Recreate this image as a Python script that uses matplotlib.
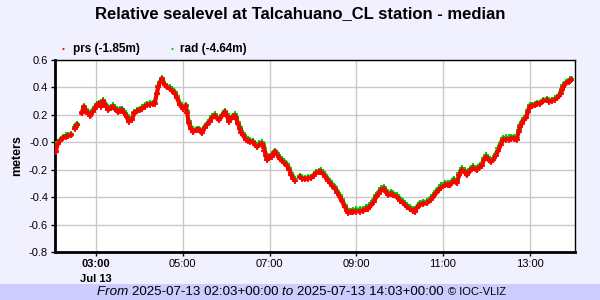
import numpy as np
import matplotlib
matplotlib.use("Agg")
import matplotlib.pyplot as plt
import matplotlib.dates as mdates
from matplotlib.patches import Rectangle
from datetime import datetime

plt.rcParams['font.family'] = ['Liberation Sans', 'DejaVu Sans']

title = "Relative sealevel at Talcahuano_CL station - median"
labels = ["prs (-1.85m)", "rad (-4.64m)"]
day = "2025-07-13"

times = ["02:04","02:07","02:10","02:14","02:18","02:21","02:25","02:27",
         "02:30","02:32","02:34","02:37",
         "02:40","02:43","02:46","02:49","02:52","02:55","02:58","03:01","03:04","03:07",
         "03:10","03:14","03:17","03:20","03:23","03:26","03:30","03:33","03:36","03:39",
         "03:42","03:45","03:49","03:53","03:57","04:00","04:04","04:07","04:11","04:14",
         "04:18","04:21","04:24","04:26","04:28","04:31","04:35","04:38","04:42","04:45",
         "04:49","04:52","04:56","05:00","05:04","05:06","05:08","05:11","05:14","05:19",
         "05:23","05:26","05:30","05:33","05:37","05:41","05:44","05:47","05:50","05:54",
         "05:58","06:01","06:04","06:09","06:12","06:14","06:16","06:19","06:21","06:23",
         "06:27","06:30","06:33","06:37","06:40","06:43","06:46","06:49","06:51","06:53",
         "06:55","06:57","07:00","07:03","07:06","07:08","07:11","07:14","07:17","07:20",
         "07:24","07:27","07:30","07:33","07:35","07:38",
         "07:42","07:45","07:49","07:53","07:58","08:01","08:05","08:08","08:11","08:14",
         "08:17","08:21","08:24","08:27","08:31","08:34","08:37","08:40","08:44","08:47",
         "08:49","08:53","08:56","09:00","09:05","09:10","09:14","09:17","09:21","09:24",
         "09:28","09:31","09:35","09:38","09:41","09:44","09:48","09:51","09:56","10:01",
         "10:05","10:10","10:15","10:18","10:21","10:24","10:28","10:33","10:38","10:43",
         "10:47","10:51","10:54","10:58","11:03","11:07","11:10","11:15","11:19","11:23",
         "11:26","11:30","11:33","11:38","11:42","11:47","11:51","11:54","11:57","12:00",
         "12:03","12:06","12:10","12:13","12:17","12:20","12:23","12:27","12:31","12:35",
         "12:38","12:42","12:45","12:47","12:49","12:52","12:55","12:58","13:00","13:04",
         "13:08","13:11","13:15","13:19","13:24","13:27","13:31","13:35","13:38","13:41",
         "13:43","13:45","13:47","13:51","13:54","13:56","13:58"]

nan = np.nan
prs = [-0.07,-0.01,0.01,0.03,0.04,0.045,0.05,nan,
       0.10,0.115,0.125,nan,
       0.21,0.26,0.22,0.21,0.19,0.22,0.245,0.27,0.28,0.26,
       0.30,0.26,0.235,0.25,0.26,0.24,0.22,0.23,0.235,0.21,
       0.185,0.15,0.16,0.21,0.225,0.235,0.245,0.26,0.27,0.275,
       0.28,0.28,0.355,0.40,0.43,0.465,0.415,0.40,0.39,0.375,
       0.355,0.32,0.27,0.245,0.265,0.21,0.14,0.10,0.075,0.09,
       0.09,0.065,0.105,0.125,0.15,0.18,0.195,0.175,0.16,0.19,
       0.22,0.19,0.15,0.185,0.195,0.17,0.135,0.10,0.07,0.05,
       0.02,0.01,0.005,0.0,-0.02,-0.035,-0.02,-0.01,-0.03,-0.06,
       -0.10,-0.13,-0.11,-0.105,-0.08,-0.07,-0.095,-0.12,-0.135,-0.15,
       -0.17,-0.20,-0.24,-0.265,-0.28,nan,
       -0.255,-0.265,-0.27,-0.265,-0.26,-0.245,-0.225,-0.22,-0.215,-0.23,
       -0.25,-0.28,-0.30,-0.32,-0.34,-0.37,-0.40,-0.43,-0.47,-0.50,
       -0.515,-0.51,-0.51,-0.505,-0.505,-0.50,-0.49,-0.485,-0.46,-0.435,
       -0.40,-0.375,-0.35,-0.34,-0.365,-0.385,-0.38,-0.385,-0.40,-0.425,
       -0.445,-0.47,-0.49,-0.50,-0.51,-0.48,-0.455,-0.45,-0.445,-0.42,
       -0.40,-0.37,-0.35,-0.33,-0.315,-0.31,-0.315,-0.28,-0.30,-0.24,
       -0.205,-0.22,-0.24,-0.21,-0.19,-0.205,-0.18,-0.17,-0.13,-0.11,
       -0.125,-0.145,-0.13,-0.10,-0.06,-0.02,0.015,0.02,0.02,0.025,
       0.027,0.015,0.075,0.11,0.135,0.16,0.175,0.22,0.26,0.265,
       0.27,0.28,0.28,0.30,0.305,0.295,0.30,0.31,0.32,0.335,
       0.355,0.38,0.405,0.43,0.44,0.45,0.455]

rad = [-0.06,0.0,0.02,0.04,0.05,0.055,0.06,nan,
       0.11,0.125,0.135,nan,
       0.22,0.265,0.23,0.225,0.205,0.235,0.255,0.28,0.29,0.275,
       0.305,0.275,0.25,0.26,0.27,0.255,0.235,0.24,0.245,0.225,
       0.2,0.165,0.175,0.22,0.235,0.245,0.255,0.27,0.28,0.285,
       0.29,0.29,0.36,0.41,0.44,0.47,0.425,0.41,0.40,0.39,
       0.37,0.335,0.285,0.255,0.275,0.225,0.155,0.115,0.085,0.10,
       0.10,0.075,0.115,0.135,0.16,0.19,0.205,0.185,0.17,0.20,
       0.23,0.205,0.165,0.195,0.205,0.185,0.15,0.115,0.085,0.065,
       0.035,0.02,0.015,0.01,-0.005,-0.02,-0.005,0.0,-0.015,-0.045,
       -0.085,-0.115,-0.1,-0.095,-0.07,-0.06,-0.08,-0.105,-0.12,-0.135,
       -0.155,-0.185,-0.225,-0.25,-0.265,nan,
       -0.245,-0.255,-0.26,-0.255,-0.25,-0.235,-0.215,-0.21,-0.205,-0.215,
       -0.235,-0.265,-0.285,-0.305,-0.325,-0.355,-0.385,-0.415,-0.455,-0.485,
       -0.5,-0.5,-0.495,-0.49,-0.49,-0.485,-0.475,-0.47,-0.445,-0.42,
       -0.385,-0.36,-0.335,-0.325,-0.35,-0.37,-0.365,-0.37,-0.385,-0.41,
       -0.43,-0.455,-0.475,-0.485,-0.495,-0.47,-0.44,-0.435,-0.43,-0.405,
       -0.385,-0.355,-0.335,-0.315,-0.3,-0.295,-0.3,-0.265,-0.285,-0.225,
       -0.19,-0.205,-0.225,-0.195,-0.175,-0.19,-0.165,-0.155,-0.115,-0.095,
       -0.11,-0.13,-0.115,-0.085,-0.045,-0.005,0.03,0.035,0.035,0.04,
       0.04,0.03,0.09,0.125,0.15,0.175,0.19,0.235,0.27,0.275,
       0.28,0.29,0.29,0.31,0.315,0.305,0.31,0.32,0.33,0.345,
       0.365,0.39,0.415,0.44,0.45,0.46,0.465]

t = [datetime.strptime(day + " " + s, "%Y-%m-%d %H:%M") for s in times]
t0 = datetime.strptime(day + " 02:03", "%Y-%m-%d %H:%M")
t1 = datetime.strptime(day + " 14:03", "%Y-%m-%d %H:%M")

BG = '#F0F0FF'
fig = plt.figure(figsize=(6, 3), dpi=100, facecolor=BG)
ax = fig.add_axes([55/600, 1-252/300, 520/600, 192/300])
ax.set_facecolor('white')

ax.plot(t, rad, color='#00C000', lw=2.8, marker='+', ms=4, mew=1.3, zorder=3)
ax.plot(t, prs, color='#FF0000', lw=2.8, marker='+', ms=4, mew=1.3, zorder=4)

ax.set_xlim(t0, t1)
ax.set_ylim(-0.8, 0.6)
ax.set_yticks(np.arange(-0.8, 0.61, 0.2))
ax.yaxis.set_major_formatter(matplotlib.ticker.FormatStrFormatter('%.1f'))
ax.xaxis.set_major_locator(mdates.HourLocator(byhour=[3,5,7,9,11,13]))
ax.xaxis.set_major_formatter(mdates.DateFormatter('%H:%M'))
ax.grid(True, color='#C8C8C8', lw=1)
ax.set_axisbelow(True)
ax.tick_params(axis='both', labelsize=8, length=3, width=1, colors='black', pad=2)
for lab in ax.get_xticklabels():
    if lab.get_text() == '03:00':
        lab.set_fontweight('bold')
for side in ['left', 'bottom']:
    ax.spines[side].set_linewidth(2)
for side in ['top', 'right']:
    ax.spines[side].set_linewidth(1)

ax.set_ylabel('meters', fontsize=9, fontweight='bold', labelpad=4)
ax.text(41/520, -27/192, 'Jul 13', transform=ax.transAxes,
        ha='center', va='center', fontsize=8, fontweight='bold')

fig.text(0.5, 1-14/300, title, ha='center', va='center', fontsize=12, fontweight='bold')

# legend
fig.text(63/600, 1-50/300, '•', color='#FF0000', ha='center', va='center', fontsize=6)
fig.text(73/600, 1-49/300, labels[0], ha='left', va='center', fontsize=8.5, fontweight='bold')
fig.text(172/600, 1-50/300, '•', color='#00C000', ha='center', va='center', fontsize=6)
fig.text(180/600, 1-49/300, labels[1], ha='left', va='center', fontsize=8.5, fontweight='bold')

# footer
fig.patches.append(Rectangle((0, 0), 1, 16/300, transform=fig.transFigure,
                             facecolor='#CCCCFF', edgecolor='none', zorder=0))
parts = [("From ", 'italic', 9.6), ("2025-07-13 02:03+00:00 ", 'normal', 9.6),
         ("to ", 'italic', 9.6), ("2025-07-13 14:03+00:00 ", 'normal', 9.6),
         ("© IOC-VLIZ", 'normal', 8)]
renderer = fig.canvas.get_renderer()
x = 97
for s, style, fs in parts:
    tx = fig.text(x/600, 1-292/300, s, style=style, fontsize=fs, ha='left', va='center')
    bb = tx.get_window_extent(renderer=renderer)
    x += bb.width

fig.savefig('out.png', dpi=100, facecolor=BG)
